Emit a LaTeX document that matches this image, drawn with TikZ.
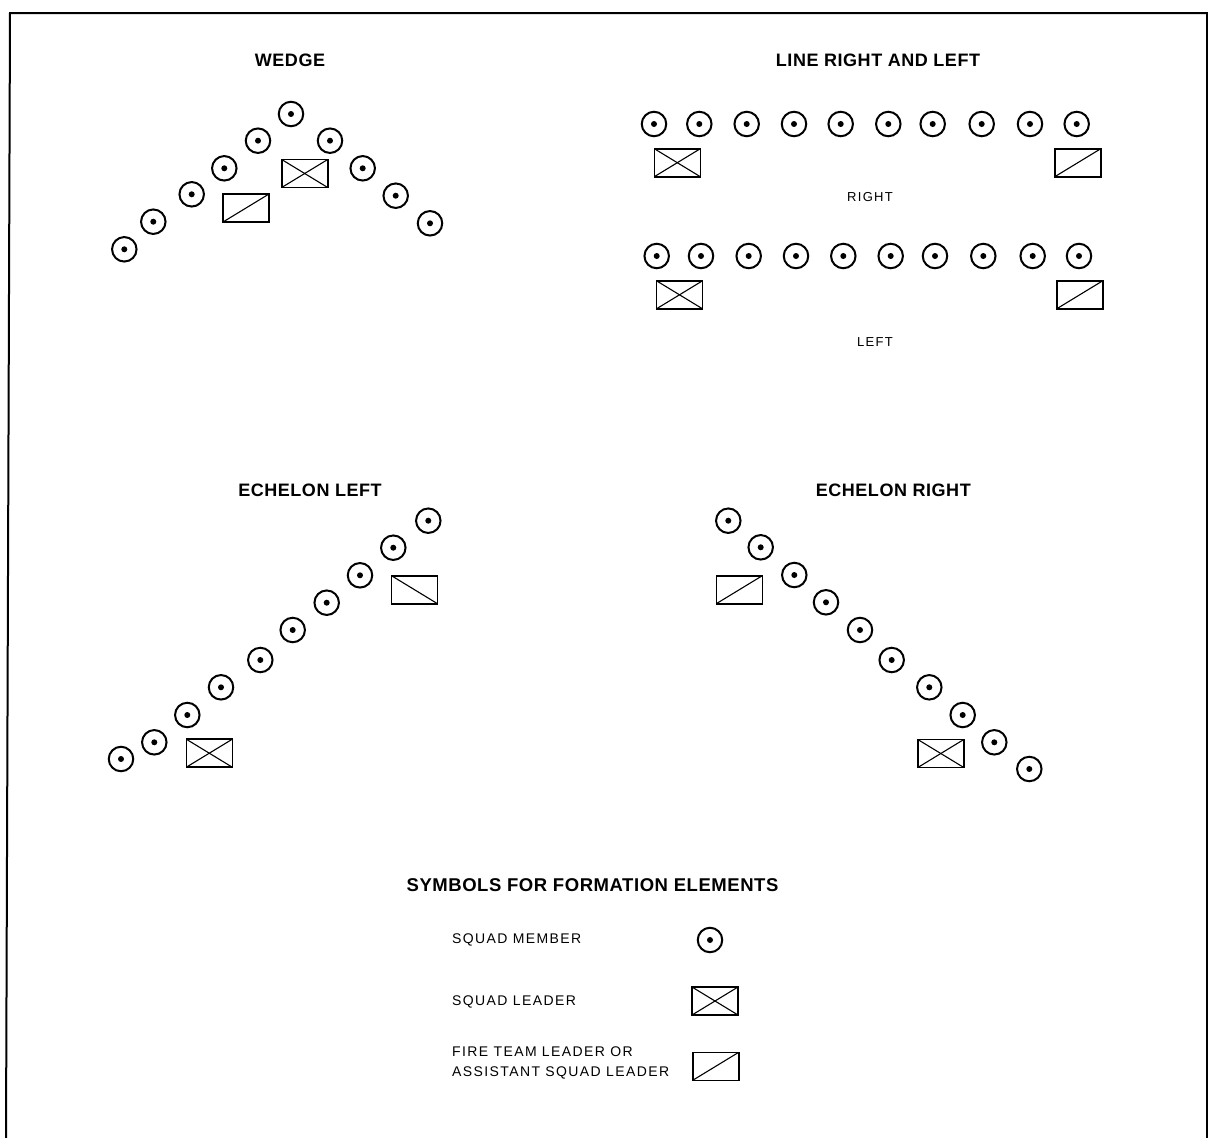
\documentclass[tikz,border=0pt]{standalone}
\usepackage{fontspec}
\setmainfont{Liberation Sans}
\newfontfamily\titlefont[LetterSpace=3]{Liberation Sans}
\newfontfamily\labelfont[LetterSpace=10]{Liberation Sans}
\begin{document}
\begin{tikzpicture}[x=1pt,y=-1pt,
  member/.style={circle, draw, line width=2pt, minimum size=24.5pt, inner sep=0pt,
    path picture={\fill (path picture bounding box.center) circle[radius=3pt];}},
  leaderbox/.style={rectangle, draw, line width=1.6pt, minimum width=46pt, minimum height=28pt, inner sep=0pt},
  sqleader/.style={leaderbox, path picture={
    \draw[line width=1.1pt] (path picture bounding box.north west) -- (path picture bounding box.south east);
    \draw[line width=1.1pt] (path picture bounding box.south west) -- (path picture bounding box.north east);}},
  ftleader/.style={leaderbox, path picture={
    \draw[line width=1.1pt] (path picture bounding box.south west) -- (path picture bounding box.north east);}},
  ftleaderb/.style={leaderbox, path picture={
    \draw[line width=1.1pt] (path picture bounding box.north west) -- (path picture bounding box.south east);}},
  heading/.style={font=\titlefont\bfseries\fontsize{18}{21}\selectfont, inner sep=0pt},
  bighead/.style={font=\titlefont\bfseries\fontsize{18.5}{22}\selectfont, inner sep=0pt},
  txt/.style={font=\labelfont\fontsize{14}{20.6}\selectfont, inner sep=0pt},
  small/.style={font=\labelfont\fontsize{13}{16}\selectfont, inner sep=0pt}
]
\useasboundingbox (0,0) rectangle (1208,1138);
% frame
\coordinate (fbl) at (6,1138);
\coordinate (ftl) at (10,13);
\coordinate (ftr) at (1208,13);
\coordinate (ftrr) at (1206.5,13);
\coordinate (fbr) at (1206.5,1138);
\draw[line width=2pt] (fbl) -- (ftl) -- (ftr);
\draw[line width=2pt] (ftrr) -- (fbr);

% ---------------- WEDGE ----------------
\node[heading] (tw) at (290,60) {WEDGE};
\foreach \x/\y [count=\i] in {124.3/249.3, 153.3/221.7, 191.7/194.3, 224.3/168.3, 258/140.7,
  291/114, 330/140.7, 362.7/168.3, 395.7/195.7, 430/223.3}
  \node[member] (w\i) at (\x,\y) {};
\node[sqleader] (wsl) at (304.7,173.5) {};
\node[ftleader] (wftl) at (246,208) {};

% ---------------- LINE RIGHT AND LEFT ----------------
\node[heading] (tl) at (878,60) {LINE RIGHT AND LEFT};
\foreach \x [count=\i] in {654, 699.3, 746.7, 794, 840.7, 888.3, 932.7, 981.7, 1030, 1076.7}
  \node[member] (r\i) at (\x,124) {};
\node[sqleader] (rsl) at (677.3,162.7) {};
\node[ftleader] (rftl) at (1077.8,162.7) {};
\node[small] (rlab) at (870,196.7) {RIGHT};
\foreach \x [count=\i] in {656.7, 701, 748.7, 796, 843.3, 890.7, 935, 983.3, 1032.7, 1079}
  \node[member] (l\i) at (\x,256) {};
\node[sqleader] (lsl) at (679.5,294.8) {};
\node[ftleader] (lftl) at (1079.7,294.8) {};
\node[small] (llab) at (875,342.3) {LEFT};

% ---------------- ECHELON LEFT ----------------
\node[heading] (tel) at (310,490.7) {ECHELON LEFT};
\foreach \x/\y [count=\i] in {121/759, 154.3/742.3, 187.3/715, 221/687.3, 260.3/660,
  292.7/630, 326.7/602.7, 360/575.3, 393.3/547.7, 428.3/520.7}
  \node[member] (el\i) at (\x,\y) {};
\node[sqleader] (elsl) at (209.3,753.2) {};
\node[ftleaderb] (elftl) at (414.5,589.7) {};

% ---------------- ECHELON RIGHT ----------------
\node[heading] (ter) at (893.3,490.7) {ECHELON RIGHT};
\foreach \x/\y [count=\i] in {728.3/520.7, 760.7/547.3, 794.3/575, 826/602.3, 860/630,
  891.7/660, 929.3/687.3, 962.7/715, 994.3/742.3, 1029.3/769}
  \node[member] (er\i) at (\x,\y) {};
\node[ftleader] (erftl) at (739.3,589.7) {};
\node[sqleader] (ersl) at (940.8,753.5) {};

% ---------------- LEGEND ----------------
\node[bighead] (ts) at (592.5,885) {SYMBOLS FOR FORMATION ELEMENTS};
\node[txt, anchor=west] (lg1) at (452,940) {SQUAD MEMBER};
\node[member] (lgm) at (710,940) {};
\node[txt, anchor=west] (lg2) at (452,1001.7) {SQUAD LEADER};
\node[sqleader] (lgsl) at (715,1001) {};
\node[txt, anchor=west, align=left] (lg3) at (452,1063) {FIRE TEAM LEADER OR\\ASSISTANT SQUAD LEADER};
\node[ftleader] (lgftl) at (715.7,1066.3) {};
\end{tikzpicture}
\end{document}
